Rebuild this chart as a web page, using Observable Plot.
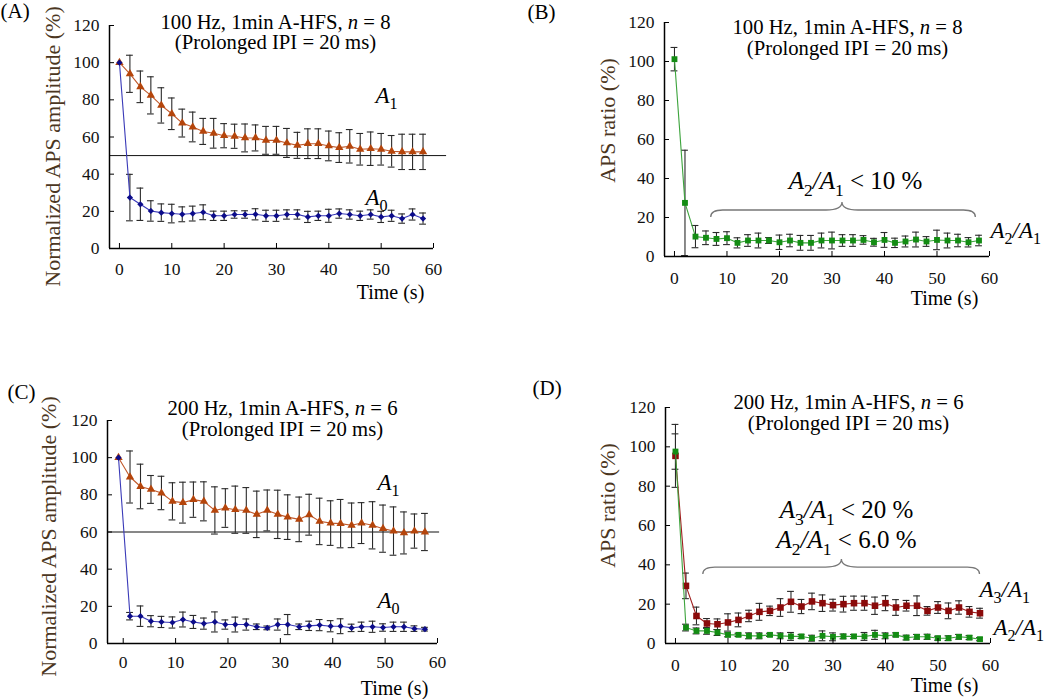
<!DOCTYPE html>
<html><head><meta charset="utf-8">
<script src="https://cdn.jsdelivr.net/npm/d3@7"></script>
<script src="https://cdn.jsdelivr.net/npm/@observablehq/plot@0.6"></script>
<style>
body{margin:0;background:#fff;}
#fig{position:relative;width:1050px;height:699px;overflow:hidden;background:#fff;}
#fig svg{position:absolute;overflow:visible;}
#fig svg text{font-family:"Liberation Serif","Times New Roman",serif !important;}
</style></head><body><div id="fig"></div>
<script>
// ---------- data ----------
const xTicks = [0,10,20,30,40,50,60];
const yTicks = [0,20,40,60,80,100,120];
const time = [0,2,4,6,8,10,12,14,16,18,20,22,24,26,28,30,32,34,36,38,40,42,44,46,48,50,52,54,56,58];
const timeC = [-0.9,1.3,3.3,5.3,7.3,9.4,11.4,13.4,15.4,17.5,19.5,21.4,23.5,25.5,27.5,29.5,31.4,33.6,35.5,37.5,39.6,41.5,43.6,45.5,47.6,49.6,51.6,53.6,55.6,57.6];

// (A) 100 Hz amplitudes
const aA1 = [100,94,87,82.4,77,72.5,67.5,65.4,63,62,60.7,60.4,59.5,59.5,58.2,58.2,56.8,55.5,56.4,56.4,55.2,54.3,55,53.4,53.7,53.4,52.3,52,52,52];
const aA1Err = [0,10,8.5,10,9.5,8.5,7.5,8,7,8,6.5,6.5,7.5,7,7.5,7.5,7.8,7,8,8,8,8,9,8.5,9,8.5,8.5,9.5,9.5,9.5];
const aA0 = [100,27.4,23.8,20.2,19.3,18.8,18.4,18.8,19.5,17.6,17.6,18.3,18.3,18.4,17.6,17.6,18.3,18.3,17,17.6,17.6,18.8,18.3,17.6,18.3,17,17.6,16.1,18.3,16.1];
const aA0Err = [0,12.5,8.7,5.5,4.7,5,4,4,4,2.5,2.5,2,2,3,3,3,2.5,2.5,3,2.5,3.5,2.5,2.5,2.5,2.5,3,3,2.5,3,3];
const refA = 50;

// (B) 100 Hz ratio A2/A1
const bA2 = [101.2,27.5,10.2,9.6,9,9.4,7,8.2,8.2,8.2,7.3,8.2,7,7,8.2,8.2,8.2,8.2,8.5,7.3,8.5,7,7.7,8.7,7.7,8.5,8.2,8.2,7.3,8.2];
const bA2Err = [6,27,5.7,3.5,3.3,3.3,2.6,3,3.8,1.5,3.7,3.2,3.8,3.8,3.8,4.3,3,3,2.2,2,3.8,2.4,2.8,3.8,2.5,5,3.8,3.2,2.4,2.7];
const braceB = [7, 57.4, 32, 23.6];

// (C) 200 Hz amplitudes
const cA1 = [100,89.6,84.5,82.9,81,76.5,75.8,77.4,76.5,71.6,72.9,72,71.6,69.5,71.6,69.5,68,66.8,69.3,65.7,64.8,64.5,63.6,64.8,63.6,61.8,60.5,59.5,60.5,60];
const cA1Err = [0,14,12,7.5,9,10,11,9.5,10.5,12.7,10.4,12.7,12.3,12.5,11,13,12,12,11,12.5,12,13,12,11,12.7,12.7,13,11.3,9.2,10];
const cA0 = [100,14.7,14.7,12,11.6,11.3,12.9,11.6,10.7,11.6,10.2,10.2,10.2,9,8.4,10.2,10.2,9,9.5,9.9,9.3,9.3,8.4,9,9,8.6,9,9,8,7.7];
const cA0Err = [0,2,5.5,3,3,3,4,3.5,3,5.4,2.5,4,3,1.5,1,3,5.4,1.5,2.5,3,3,4,2,2.5,3,2,2.5,2.5,1.5,1];
const refC = 60;

// (D) 200 Hz ratios
const dA3 = [95.4,29.3,14,10.2,9.8,10.7,12,14,16.1,16.6,18.3,21.2,18.8,21.4,20.5,19.5,20,20.5,20.5,19.2,20.5,18.3,19.2,19.2,16.6,18.3,16.6,18.3,16.1,15.4];
const dA3Err = [16,6.5,4.5,2.5,2.7,4.4,3.5,2.9,4.3,2.4,4.5,5.3,3.6,4.2,4.2,3,4,3.6,3.6,4.4,3.8,4,2.7,5,2.2,3,4,3.4,2.7,2.5];
const dA2 = [97.6,8.1,6.4,6.4,5.6,4.4,4.4,3.9,3.9,4.4,3.9,3.6,3.6,2.7,3.9,3.4,3.6,3.6,3.6,4.4,3.9,4.4,3,3.4,3.4,2.7,2.7,3.4,3,2.2];
const dA2Err = [9,1.7,1.5,1.7,1.5,1,0.8,1.5,1.5,0.8,1.5,2,1,1.5,2.5,2,1.2,1,2,2.3,1.5,1,1.2,1.2,1.3,1,1.2,1.2,1,0.8];
const braceD = [5.3, 58, 31.7, 38.6];

// ---------- styles ----------
const FONT = "Liberation Serif";
const TICK_FS = 17.5;
const ORANGE = "#b5450b", ORANGE_LINE = "#c0582a";
const BLUE = "#0c0c8a", BLUE_LINE = "#3a3ab8";
const GREEN = "#138c13", GREEN_LINE = "#3da43d";
const RED = "#8a0a0a", RED_LINE = "#a02020";
const ERR = "#2a2a2a";
const LABEL = "#4b3621";

function seriesMarks(x, y, e, s) {
  const rows = x.map((v, i) => ({x: v, y: y[i], e: e[i]}));
  const bars = rows.filter(d => d.e > 0);
  return [
    Plot.ruleX(bars, {x: "x", y1: d => Math.max(0, d.y - d.e), y2: d => d.y + d.e, stroke: ERR, strokeWidth: 1.1}),
    Plot.ruleY(bars, {y: d => d.y + d.e, x1: d => d.x - s.cap, x2: d => d.x + s.cap, stroke: ERR, strokeWidth: 1.1}),
    Plot.ruleY(bars.filter(d => d.y - d.e > 0), {y: d => d.y - d.e, x1: d => d.x - s.cap, x2: d => d.x + s.cap, stroke: ERR, strokeWidth: 1.1}),
    Plot.line(rows, {x: "x", y: "y", stroke: s.line, strokeWidth: 1.1}),
    Plot.dot(rows, {x: "x", y: "y", symbol: s.symbol, r: s.r, fill: s.color, stroke: "none"})
  ];
}

function panel(P) {
  const note = (text, px, py, o = {}) => Plot.text([text], {
    frameAnchor: "top-left", dx: px - P.left - P.mL, dy: py - P.top - P.mT,
    fontSize: 21, textAnchor: "middle", lineAnchor: "middle", fill: "#000", fontFamily: FONT, ...o
  });
  const marks = [];
  if (P.ref != null) marks.push(Plot.ruleY([P.ref], {x1: P.xDomain[0], x2: P.refEnd, stroke: "#111", strokeWidth: 1}));
  for (const s of P.series) marks.push(...seriesMarks(s.x, s.y, s.e, s));
  marks.push(
    Plot.ruleY([0], {stroke: "#000", strokeWidth: 1.5}),
    Plot.ruleX([P.xDomain[0]], {stroke: "#000", strokeWidth: 1.5}),
    Plot.axisX(xTicks, {anchor: "bottom", tickSize: -5, tickFormat: () => "", label: null}),
    Plot.axisY(yTicks, {anchor: "left", tickSize: -5, tickFormat: () => "", label: null}),
    Plot.text(xTicks, {x: d => d, y: 0, dy: P.xLabDy, text: d => String(d), fontSize: TICK_FS, fontFamily: FONT, fill: "#111", lineAnchor: "middle"}),
    Plot.text(yTicks, {x: P.xDomain[0], y: d => d, dx: -10, text: d => String(d), fontSize: TICK_FS, fontFamily: FONT, fill: "#111", textAnchor: "end", lineAnchor: "middle"})
  );
  for (const t of P.texts) marks.push(note(t[0], t[1], t[2], t[3] || {}));
  const svg = Plot.plot({
    width: P.width, height: P.height,
    marginLeft: P.mL, marginRight: P.mR, marginTop: P.mT, marginBottom: P.mB,
    x: {domain: P.xDomain}, y: {domain: [0, 120]},
    style: {fontFamily: FONT, background: "transparent", overflow: "visible"},
    marks
  });
  svg.style.left = P.left + "px";
  svg.style.top = P.top + "px";
  document.getElementById("fig").appendChild(svg);
  if (P.brace) {
    const sx = svg.scale("x"), sy = svg.scale("y");
    const [b1, b2, bm, by] = P.brace;
    const x1 = sx.apply(b1), x2 = sx.apply(b2), xm = sx.apply(bm), y = sy.apply(by);
    const h = 7, hm = 8, r = 12, rm = 16;
    const d = `M${x1},${y + h} Q${x1},${y} ${x1 + r},${y} L${xm - rm},${y} Q${xm},${y} ${xm},${y - hm} Q${xm},${y} ${xm + rm},${y} L${x2 - r},${y} Q${x2},${y} ${x2},${y + h}`;
    d3.select(svg).append("path").attr("d", d).attr("fill", "none").attr("stroke", "#777").attr("stroke-width", 1.3);
  }
  richify(svg);
  return svg;
}

// minimal markup: *italic*  _{subscript}
function richNode(node, fs) {
  const t = node.textContent;
  if (!/\*|_\{/.test(t)) return;
  const shift = fs * 0.28;
  node.textContent = "";
  const re = /\*([^*]+)\*|_\{([^}]+)\}|([^*_]+)/g;
  let m, down = false;
  while ((m = re.exec(t))) {
    const ts = d3.select(node).append("tspan");
    if (m[2] != null) {
      ts.text(m[2]).attr("font-size", fs * 0.7).attr("dy", shift);
      down = true;
      continue;
    }
    if (down) { ts.attr("dy", -shift); down = false; }
    if (m[1] != null) ts.text(m[1]).attr("font-style", "italic");
    else ts.text(m[3]);
  }
}
function richify(svg) {
  d3.select(svg).selectAll("text").each(function () {
    const fs = parseFloat(getComputedStyle(this).fontSize) || 20;
    const kids = Array.from(this.children).filter(c => c.tagName.toLowerCase() === "tspan");
    if (kids.length) kids.forEach(k => richNode(k, fs));
    else richNode(this, fs);
  });
}

const A1L = "*A*_{1}", A0L = "*A*_{0}";
const A21 = "*A*_{2}*/A*_{1}", A31 = "*A*_{3}*/A*_{1}";
const yAmp = "Normalized APS amplitude (%)", yRat = "APS ratio (%)";
const rot = {rotate: -90, fill: LABEL, fontSize: 22};
const title = {lineHeight: 0.98, fontSize: 20.7};

panel({
  left: 0, top: 0, width: 520, height: 320, mL: 109, mR: 87, mT: 25, mB: 72, xLabDy: 21,
  xDomain: [-1.9, 60], ref: refA, refEnd: 62.5,
  series: [
    {x: time, y: aA1, e: aA1Err, symbol: "triangle", r: 3.1, color: ORANGE, line: ORANGE_LINE, cap: 0.65},
    {x: time, y: aA0, e: aA0Err, symbol: "diamond2", r: 2.8, color: BLUE, line: BLUE_LINE, cap: 0.65}
  ],
  texts: [
    ["(A)", 0, 11, {textAnchor: "start"}],
    ["100 Hz, 1min A-HFS, *n* = 8\n(Prolonged IPI = 20 ms)", 275, 32, title],
    [yAmp, 52, 146, rot],
    ["Time (s)", 390, 292, {fontSize: 20}],
    [A1L, 375, 95, {textAnchor: "start", fontSize: 23}],
    [A0L, 365, 197, {textAnchor: "start", fontSize: 23}]
  ]
});

panel({
  left: 520, top: 0, width: 530, height: 320, mL: 144, mR: 61, mT: 22, mB: 64, xLabDy: 22,
  xDomain: [-1.9, 60], brace: braceB,
  series: [
    {x: time, y: bA2, e: bA2Err, symbol: "square", r: 3.3, color: GREEN, line: GREEN_LINE, cap: 0.65}
  ],
  texts: [
    ["(B)", 527, 12, {textAnchor: "start"}],
    ["100 Hz, 1min A-HFS, *n* = 8\n(Prolonged IPI = 20 ms)", 847, 37.5, title],
    [yRat, 607, 120, rot],
    ["Time (s)", 944, 298, {fontSize: 20}],
    [A21 + " < 10 %", 855, 180, {fontSize: 25}],
    [A21, 990, 230, {textAnchor: "start", fontSize: 23}]
  ]
});

panel({
  left: 0, top: 340, width: 520, height: 359, mL: 107, mR: 83, mT: 80, mB: 56, xLabDy: 19,
  xDomain: [-3, 60], ref: refC, refEnd: 60.4,
  series: [
    {x: timeC, y: cA1, e: cA1Err, symbol: "triangle", r: 3.1, color: ORANGE, line: ORANGE_LINE, cap: 0.65},
    {x: timeC, y: cA0, e: cA0Err, symbol: "diamond2", r: 2.8, color: BLUE, line: BLUE_LINE, cap: 0.65}
  ],
  texts: [
    ["(C)", 7, 392, {textAnchor: "start"}],
    ["200 Hz, 1min A-HFS, *n* = 6\n(Prolonged IPI = 20 ms)", 282, 418.5, title],
    [yAmp, 48, 536, rot],
    ["Time (s)", 394, 688, {fontSize: 20}],
    [A1L, 377, 482, {textAnchor: "start", fontSize: 23}],
    [A0L, 377, 600, {textAnchor: "start", fontSize: 23}]
  ]
});

panel({
  left: 520, top: 340, width: 530, height: 359, mL: 145, mR: 60, mT: 67, mB: 56, xLabDy: 22,
  xDomain: [-1.9, 60], brace: braceD,
  series: [
    {x: time, y: dA3, e: dA3Err, symbol: "square", r: 3.7, color: RED, line: RED_LINE, cap: 0.65},
    {x: time, y: dA2, e: dA2Err, symbol: "square", r: 3.3, color: GREEN, line: GREEN_LINE, cap: 0.65}
  ],
  texts: [
    ["(D)", 532, 388, {textAnchor: "start"}],
    ["200 Hz, 1min A-HFS, *n* = 6\n(Prolonged IPI = 20 ms)", 848, 412.5, title],
    [yRat, 607, 505, rot],
    ["Time (s)", 944, 685, {fontSize: 20}],
    [A31 + " < 20 %\n" + A21 + " < 6.0 %", 846, 523, {fontSize: 25, lineHeight: 1.2}],
    [A31, 979, 589, {textAnchor: "start", fontSize: 23}],
    [A21, 993, 627, {textAnchor: "start", fontSize: 23}]
  ]
});
</script>
</body></html>
